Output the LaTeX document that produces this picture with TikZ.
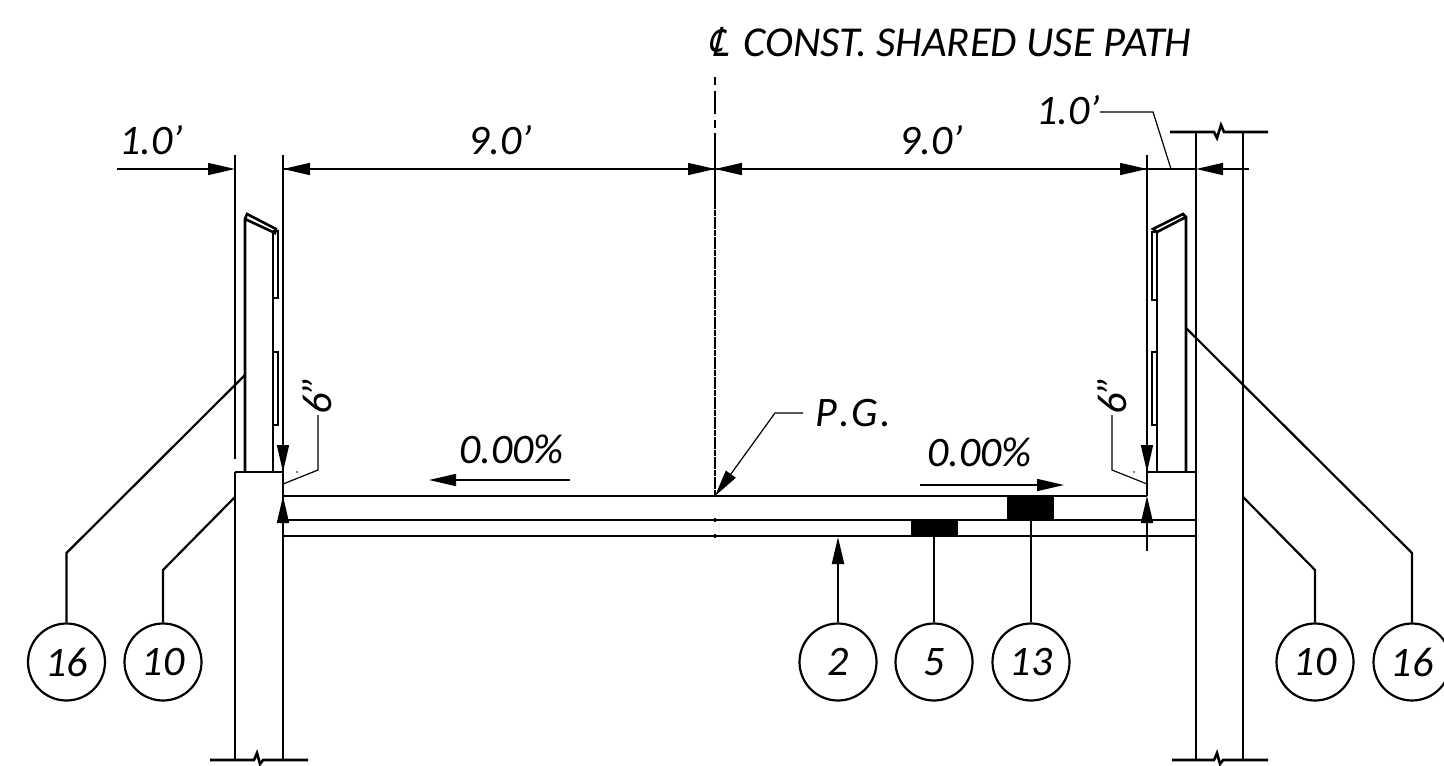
\documentclass[tikz,border=0pt]{standalone}
\usepackage{fontspec}
\setmainfont{Carlito}
\newfontfamily\symfont[FakeSlant=0.25,FakeStretch=0.8]{DejaVu Sans}
\usetikzlibrary{arrows.meta}
\tikzset{
  heavy/.style={line width=1.3pt,line join=miter},
  leader/.style={line width=1.1pt},
  thin line/.style={line width=0.8pt},
  hair/.style={line width=0.6pt},
  tip/.style={-{Triangle[length=13.5pt,width=6pt]}},
  lab/.style={inner sep=0pt,anchor=base west,font=\fontsize{21}{24}\selectfont\itshape},
  bubble/.style={draw,circle,line width=1.1pt,minimum size=38.5pt,inner sep=0pt,font=\fontsize{21}{24}\selectfont\itshape},
  solid black/.style={fill=black,draw=none}
}
\newcommand{\ft}{\symbol{39}}
\newcommand{\inch}{\symbol{34}}
\begin{document}
\begin{tikzpicture}[x=0.5pt,y=-0.5pt]
\useasboundingbox (0,0) rectangle (1444,765);
% bubbles
\node[bubble] (b16l) at (66.5,662) {16};
\node[bubble] (b10l) at (163,662) {10};
\node[bubble] (b2) at (838,662) {2};
\node[bubble] (b5) at (934,662) {5};
\node[bubble] (b13) at (1031,662) {13};
\node[bubble] (b10r) at (1315,662) {10};
\node[bubble] (b16r) at (1412,662) {16};
% labels
\node[lab,font=\fontsize{21.3}{24}\selectfont\itshape] (title) at (703,57) {\makebox[20pt][l]{\symfont\fontsize{20}{20}\selectfont ℄}CONST. SHARED USE PATH};
\node[lab] (d1l) at (119,155) {1.0\ft};
\node[lab] (d9l) at (468,155) {9.0\ft};
\node[lab] (d9r) at (899,155) {9.0\ft};
\node[lab] (d1r) at (1036,125) {1.0\ft};
\node[lab] (pg) at (815,426) {P\kern1pt.\kern1pt G\kern1pt.};
\node[lab] (sl) at (459,463) {0.00\%};
\node[lab] (sr) at (927,466) {0.00\%};
\node[lab,rotate=90] (s6l) at (331,415) {6\inch};
\node[lab,rotate=90] (s6r) at (1126,415) {6\inch};
% columns
\draw[heavy] (235,472)--(235,760) (283,472)--(283,760);
\draw[heavy] (1196,132)--(1196,760) (1243,132)--(1243,760);
\draw[heavy] (210,760)--(254,760)--(257,753)--(260,764)--(263,760)--(308,760);
\draw[heavy] (1170,132)--(1214,132)--(1217,138)--(1221,125)--(1224,132)--(1268,132);
\draw[heavy] (1172,760)--(1214,760)--(1217,753)--(1220,764)--(1223,760)--(1268,760);
% curb boxes
\draw[heavy] (235,472)--(283,472)--(283,496);
\draw[heavy] (1147,496)--(1147,472)--(1196,472);
% deck
\draw[heavy] (283,496)--(1147,496);
\draw[heavy] (283,520)--(1196,520);
\draw[heavy] (283,536)--(1196,536);
\fill[solid black] (911,520) rectangle (958,537);
\fill[solid black] (1007,496) rectangle (1054,521);
% left parapet
\draw[heavy] (245,472)--(245,219)--(247,214)--(276,229)--(275,233)--(245,219);
\draw[heavy] (273,472)--(273,233);
\draw[thin line] (273,231)--(278,231)--(278,298)--(273,298);
\draw[thin line] (273,352)--(278,352)--(278,425)--(273,425);
% right parapet
\draw[heavy] (1186,472)--(1186,217)--(1183,214)--(1153,229)--(1157,232)--(1186,217);
\draw[heavy] (1157,472)--(1157,232);
\draw[thin line] (1157,232)--(1152,232)--(1152,300)--(1157,300);
\draw[thin line] (1157,352)--(1152,352)--(1152,425)--(1157,425);
% extension lines
\draw[thin line] (235,155)--(235,459);
\draw[thin line] (283,155)--(283,472);
\draw[thin line] (1147,155)--(1147,472);
% centre line
\draw[line width=1.25pt,dash pattern=on 4pt off 3pt on 11.5pt off 3pt on 4pt off 2.5pt on 200pt off 1pt] (715,77)--(715,197);
\draw[line width=1.25pt,dash pattern=on 6pt off 0.5pt on 3pt off 0.5pt] (715,197)--(715,496);
\draw[line width=1.25pt] (715,518)--(715,522) (715,534)--(715,538);
% dimensions
\coordinate (dA) at (117,169); \coordinate (dB) at (235,169);
\coordinate (dC) at (283,169); \coordinate (dD) at (715,169);
\coordinate (dE) at (1147,169); \coordinate (dF) at (1249,169); \coordinate (dG) at (1196,169);
\draw[thin line,tip] (dA)--(dB);
\draw[thin line,tip] (dD)--(dC);
\draw[thin line,tip] (dC)--(dD);
\draw[thin line,tip] (dD)--(dE);
\draw[thin line,tip] (dE)--(dD);
\draw[thin line] (dE)--(dG);
\draw[thin line,tip] (dF)--(dG);
\draw[hair] (1100,112)--(1153,112)--(1171,169);
% 6 inch
\draw[{Triangle[length=13.5pt,width=6pt]}-,thin line] (283,472)--(283,440);
\draw[{Triangle[length=13.5pt,width=6pt]}-,thin line] (1147,472)--(1147,440);
\draw[thin line,tip] (283,530)--(283,496);
\draw[thin line,tip] (1147,551)--(1147,496);
\draw[hair] (283,484)--(318,470)--(318,415);
\draw[hair] (1147,484)--(1112,470)--(1112,415);
\fill (297,472) circle (0.4pt) (1134,472) circle (0.4pt);
% slopes
\draw[thin line,tip] (570,480)--(429,480);
\draw[thin line,tip] (920,485)--(1064,485);
\draw[hair,tip] (803,413)--(775,413)--(715,496);
% leaders
\draw[leader] (245,375)--(66.5,553)--(b16l.north);
\draw[leader] (235,497)--(163,570)--(b10l.north);
\draw[leader,tip] (b2.north)--(838,537);
\draw[leader] (934,536)--(b5.north);
\draw[leader] (1031,520)--(b13.north);
\draw[leader] (1243,497)--(1315,570)--(b10r.north);
\draw[leader] (1186,328)--(1412,553)--(b16r.north);
\end{tikzpicture}
\end{document}
